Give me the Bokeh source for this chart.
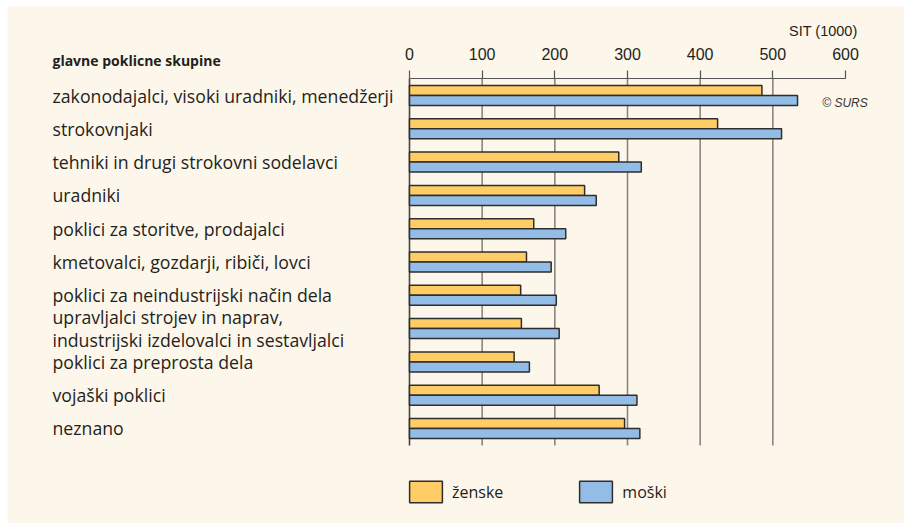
from bokeh.plotting import figure
from bokeh.models import Range1d, Label, Legend, LegendItem, FixedTicker
from bokeh.core.properties import value
from bokeh.embed import file_html
from bokeh.resources import INLINE

categories = [
    "zakonodajalci, visoki uradniki, menedžerji",
    "strokovnjaki",
    "tehniki in drugi strokovni sodelavci",
    "uradniki",
    "poklici za storitve, prodajalci",
    "kmetovalci, gozdarji, ribiči, lovci",
    "poklici za neindustrijski način dela",
    "upravljalci strojev in naprav,\nindustrijski izdelovalci in sestavljalci",
    "poklici za preprosta dela",
    "vojaški poklici",
    "neznano",
]
zenske = [485, 424, 288, 241, 171, 161, 153, 154, 144, 261, 296]
moski = [534, 512, 319, 257, 215, 195, 202, 206, 165, 313, 317]
ticks = [0, 100, 200, 300, 400, 500, 600]
grid_ticks = [0, 100, 200, 300, 400, 500]

BG = "#fdf6ea"
TXT = "#231f20"
ORANGE = "#ffcc66"
BLUE = "#93bde6"
EDGE = "#2e2e2e"

idx = list(range(len(categories)))
y_z = [i - 0.15 for i in idx]
y_m = [i + 0.15 for i in idx]

AXIS_Y = -0.5105
GRID_BOTTOM = 10.51

p = figure(width=897, height=517, output_backend="svg", toolbar_location=None,
           x_range=Range1d(-553.2, 681.2), y_range=Range1d(12.853, -2.673),
           x_axis_location="above", y_axis_location=None,
           min_border=0, min_border_top=0, min_border_left=0,
           min_border_right=0, min_border_bottom=0)
p.margin = (6, 0, 0, 7)
p.background_fill_color = BG
p.border_fill_color = BG
p.outline_line_color = None
p.xgrid.visible = False
p.ygrid.visible = False

ax = p.xaxis[0]
ax.fixed_location = AXIS_Y
ax.ticker = FixedTicker(ticks=ticks)
ax.bounds = (0, 600)
ax.major_tick_out = 8
ax.major_tick_in = 0
ax.minor_tick_line_color = None
ax.axis_line_color = "#555555"
ax.axis_line_width = 1.2
ax.major_tick_line_color = "#555555"
ax.major_tick_line_width = 1.2
ax.major_label_text_font = "Liberation Sans"
ax.major_label_text_font_size = "16px"
ax.major_label_text_color = TXT
ax.major_label_standoff = 11

# vertical grid lines
grid_colors = ["#444444"] + ["#8c8680"] * (len(grid_ticks) - 1)
p.segment(x0=grid_ticks, y0=[AXIS_Y] * len(grid_ticks), x1=grid_ticks,
          y1=[GRID_BOTTOM] * len(grid_ticks), line_color=grid_colors, line_width=1.6)

r1 = p.hbar(y=y_z, height=0.3, left=0, right=zenske, fill_color=ORANGE,
            line_color=EDGE, line_width=1.5)
r2 = p.hbar(y=y_m, height=0.3, left=0, right=moski, fill_color=BLUE,
            line_color=EDGE, line_width=1.5)

p.text(x=[-491.3] * len(categories), y=idx, text=categories, text_align="left",
       text_baseline="middle", text_font=value("Open Sans"), text_font_size="17.7px",
       text_color=TXT, text_line_height=0.96)

p.add_layout(Label(x=-491.3, y=-1.051, text="glavne poklicne skupine", text_align="left",
                   text_baseline="middle", text_font="Open Sans", text_font_style="bold",
                   text_font_size="14px", text_color=TXT))
p.add_layout(Label(x=616.5, y=-1.952, text="SIT (1000)", text_align="right",
                   text_baseline="middle", text_font="Liberation Sans",
                   text_font_size="14.5px", text_color=TXT))
p.add_layout(Label(x=568, y=0.21, text="© SURS", text_align="left",
                   text_baseline="middle", text_font="Liberation Sans", text_font_style="italic",
                   text_font_size="12px", text_color="#333333"))

legend = Legend(items=[LegendItem(label="ženske", renderers=[r1]),
                       LegendItem(label="moški", renderers=[r2])],
                orientation="horizontal", location=(398, 18), glyph_width=41, glyph_height=27,
                label_standoff=6, spacing=72, padding=0, margin=0,
                background_fill_alpha=0, border_line_color=None,
                label_text_font="Open Sans", label_text_font_size="16px", label_text_color=TXT)
p.add_layout(legend)

open("out.html", "w").write(file_html(p, INLINE))
